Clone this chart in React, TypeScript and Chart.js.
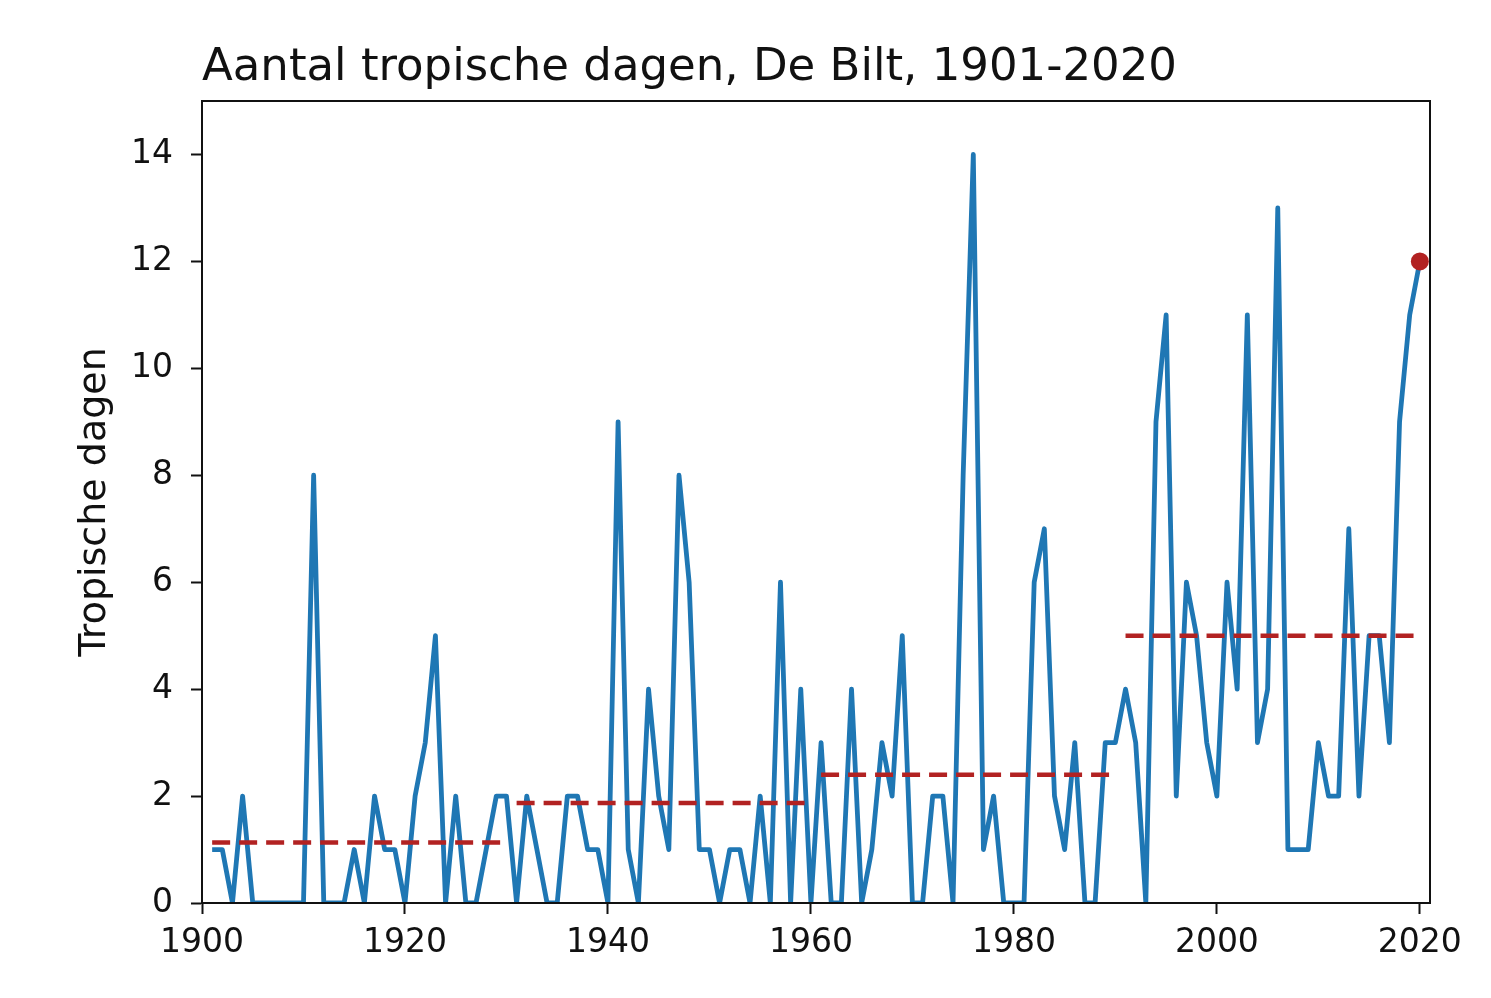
import React, { useEffect, useRef } from "react";
import { Chart, registerables } from "chart.js";

Chart.register(...registerables);

const chartTitle = "Aantal tropische dagen, De Bilt, 1901-2020";
const yAxisTitle = "Tropische dagen";

const years = [
  1901, 1902, 1903, 1904, 1905, 1906, 1907, 1908, 1909, 1910,
  1911, 1912, 1913, 1914, 1915, 1916, 1917, 1918, 1919, 1920,
  1921, 1922, 1923, 1924, 1925, 1926, 1927, 1928, 1929, 1930,
  1931, 1932, 1933, 1934, 1935, 1936, 1937, 1938, 1939, 1940,
  1941, 1942, 1943, 1944, 1945, 1946, 1947, 1948, 1949, 1950,
  1951, 1952, 1953, 1954, 1955, 1956, 1957, 1958, 1959, 1960,
  1961, 1962, 1963, 1964, 1965, 1966, 1967, 1968, 1969, 1970,
  1971, 1972, 1973, 1974, 1975, 1976, 1977, 1978, 1979, 1980,
  1981, 1982, 1983, 1984, 1985, 1986, 1987, 1988, 1989, 1990,
  1991, 1992, 1993, 1994, 1995, 1996, 1997, 1998, 1999, 2000,
  2001, 2002, 2003, 2004, 2005, 2006, 2007, 2008, 2009, 2010,
  2011, 2012, 2013, 2014, 2015, 2016, 2017, 2018, 2019, 2020,
];

const tropicalDays = [
  1, 1, 0, 2, 0, 0, 0, 0, 0, 0,
  8, 0, 0, 0, 1, 0, 2, 1, 1, 0,
  2, 3, 5, 0, 2, 0, 0, 1, 2, 2,
  0, 2, 1, 0, 0, 2, 2, 1, 1, 0,
  9, 1, 0, 4, 2, 1, 8, 6, 1, 1,
  0, 1, 1, 0, 2, 0, 6, 0, 4, 0,
  3, 0, 0, 4, 0, 1, 3, 2, 5, 0,
  0, 2, 2, 0, 8, 14, 1, 2, 0, 0,
  0, 6, 7, 2, 1, 3, 0, 0, 3, 3,
  4, 3, 0, 9, 11, 2, 6, 5, 3, 2,
  6, 4, 11, 3, 4, 13, 1, 1, 1, 3,
  2, 2, 7, 2, 5, 5, 3, 9, 11, 12,
];

const periodStarts = [1901, 1931, 1961, 1991];
const periodEnds = [1930, 1960, 1990, 2020];
const periodMeans = [1.13, 1.87, 2.4, 5.0];

const highlightYear = 2020;
const highlightValue = 12;

const xTickValues = [1900, 1920, 1940, 1960, 1980, 2000, 2020];
const yTickValues = [0, 2, 4, 6, 8, 10, 12, 14];
const xRange = [1900, 2021];
const yRange = [0, 15];

const FONT = "'DejaVu Sans', sans-serif";
const BLUE = "#1f77b4";
const RED = "#b22222";
const INK = "#111111";

const framePlugin = {
  id: "frame",
  afterDatasetsDraw(chart: any) {
    const { ctx, chartArea } = chart;
    const { left, top, right, bottom } = chartArea;
    ctx.save();
    ctx.strokeStyle = INK;
    ctx.lineWidth = 2;
    ctx.strokeRect(left, top, right - left, bottom - top);
    ctx.restore();
  },
};

export default function App() {
  const canvasRef = useRef<HTMLCanvasElement | null>(null);

  useEffect(() => {
    const canvas = canvasRef.current;
    if (!canvas) return;

    const mainData = years.map((yr, i) => ({ x: yr, y: tropicalDays[i] }));

    const meanDatasets = periodMeans.map((m, i) => ({
      type: "line" as const,
      label: `Gemiddelde ${periodStarts[i]}-${periodEnds[i]}`,
      data: [
        { x: periodStarts[i], y: m },
        { x: periodEnds[i], y: m },
      ],
      borderColor: RED,
      borderWidth: 4.5,
      borderDash: [18, 9],
      borderCapStyle: "butt" as const,
      pointRadius: 0,
      fill: false,
      order: 1,
    }));

    const chart = new Chart(canvas, {
      type: "line",
      data: {
        datasets: [
          {
            type: "scatter" as const,
            label: String(highlightYear),
            data: [{ x: highlightYear, y: highlightValue }],
            backgroundColor: RED,
            borderColor: RED,
            pointRadius: 9,
            pointBorderWidth: 0,
            clip: false as any,
            order: 0,
          },
          ...meanDatasets,
          {
            type: "line" as const,
            label: yAxisTitle,
            data: mainData,
            borderColor: BLUE,
            borderWidth: 4.8,
            borderJoinStyle: "round" as const,
            pointRadius: 0,
            tension: 0,
            fill: false,
            order: 2,
          },
        ] as any,
      },
      options: {
        responsive: false,
        animation: false,
        events: [],
        layout: { padding: { left: 0, right: 61, top: 0, bottom: 0 } },
        plugins: {
          legend: { display: false },
          tooltip: { enabled: false },
          title: {
            display: true,
            text: chartTitle,
            align: "start",
            fullSize: false,
            color: INK,
            font: { family: FONT, size: 45, weight: "normal" as any, lineHeight: 1.2 },
            padding: { top: 41, bottom: 6 },
          },
        },
        scales: {
          x: {
            type: "linear",
            min: xRange[0],
            max: xRange[1],
            afterBuildTicks: (scale: any) => {
              scale.ticks = xTickValues.map((v) => ({ value: v }));
            },
            afterFit: (scale: any) => {
              scale.height = 95;
            },
            grid: {
              display: true,
              drawOnChartArea: false,
              drawTicks: true,
              tickLength: 11,
              tickWidth: 2,
              tickColor: INK,
            },
            border: { display: true, color: INK, width: 2 },
            ticks: {
              color: INK,
              padding: 10,
              maxRotation: 0,
              autoSkip: false,
              font: { family: FONT, size: 33 },
              callback: (v: any) => String(v),
            },
          },
          y: {
            type: "linear",
            min: yRange[0],
            max: yRange[1],
            afterBuildTicks: (scale: any) => {
              scale.ticks = yTickValues.map((v) => ({ value: v }));
            },
            afterFit: (scale: any) => {
              scale.width = 202;
            },
            grid: {
              display: true,
              drawOnChartArea: false,
              drawTicks: true,
              tickLength: 11,
              tickWidth: 2,
              tickColor: INK,
            },
            border: { display: true, color: INK, width: 2 },
            ticks: {
              color: INK,
              padding: 18,
              autoSkip: false,
              font: { family: FONT, size: 33 },
              callback: (v: any) => String(v),
            },
            title: {
              display: true,
              text: yAxisTitle,
              color: INK,
              font: { family: FONT, size: 38, lineHeight: 1.2 },
              padding: { top: 72, bottom: 0 },
            },
          },
        },
      },
      plugins: [framePlugin],
    });

    return () => {
      chart.destroy();
    };
  }, []);

  return (
    <div style={{ position: "absolute", left: 0, top: 0, width: 1491, height: 998, background: "#ffffff" }}>
      <canvas ref={canvasRef} width={1491} height={998} style={{ display: "block" }} />
    </div>
  );
}
